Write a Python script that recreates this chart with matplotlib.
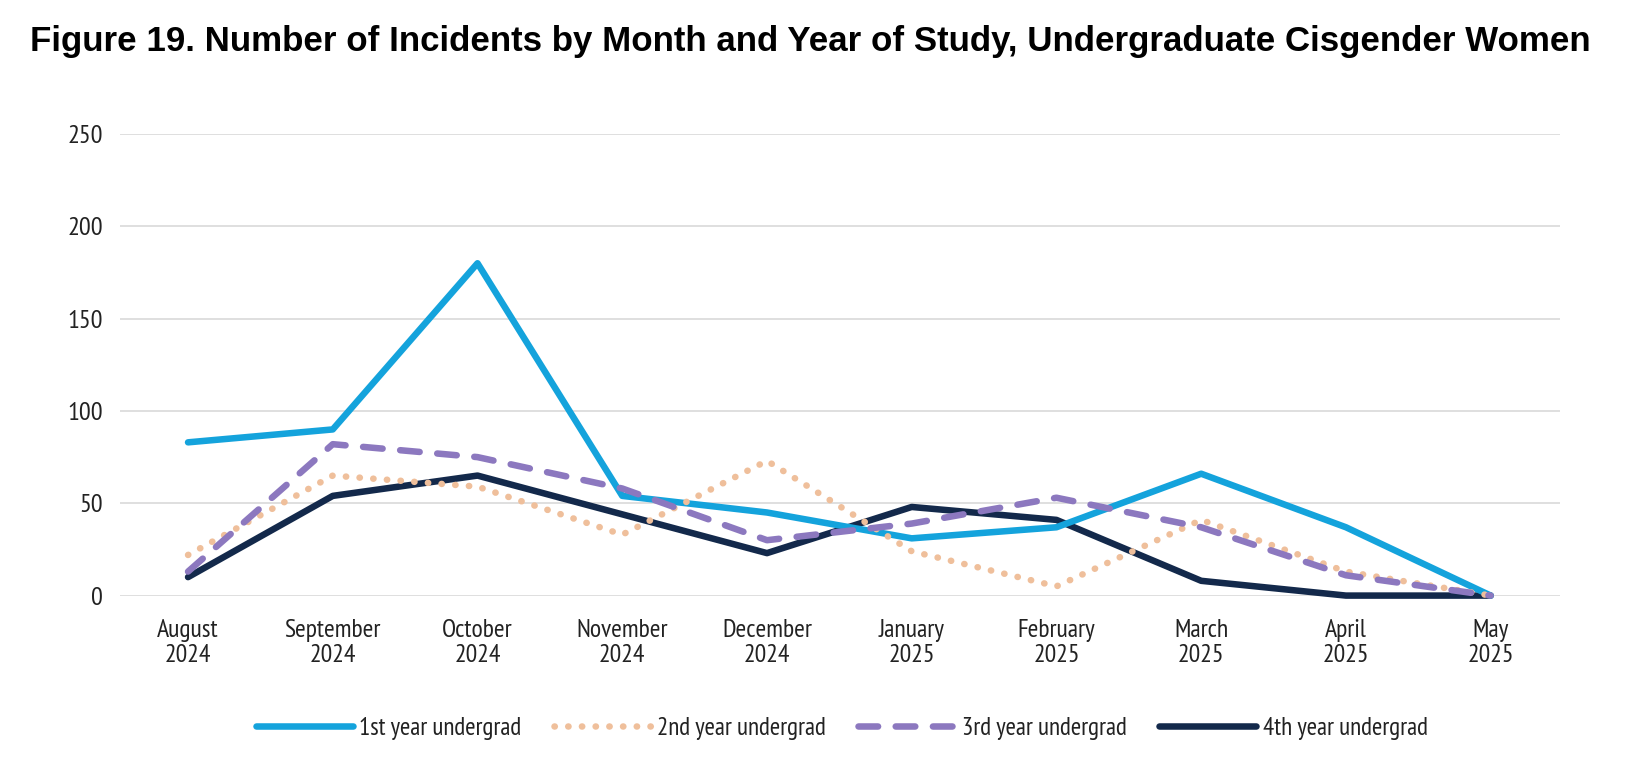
import matplotlib.pyplot as plt

# ---------------------------------------------------------------------------
# Data
# ---------------------------------------------------------------------------
MONTHS = ["August\n2024", "September\n2024", "October\n2024", "November\n2024",
          "December\n2024", "January\n2025", "February\n2025", "March\n2025",
          "April\n2025", "May\n2025"]

FIRST_YEAR = [83, 90, 180, 54, 45, 31, 37, 66, 37, 0]
SECOND_YEAR = [22, 65, 59, 33, 73, 24, 5, 41, 13, 0]
THIRD_YEAR = [13, 82, 75, 58, 30, 39, 53, 37, 11, 0]
FOURTH_YEAR = [10, 54, 65, 44, 23, 48, 41, 8, 0, 0]

SERIES_LABELS = ["1st year undergrad", "2nd year undergrad",
                 "3rd year undergrad", "4th year undergrad"]

Y_TICKS = [0, 50, 100, 150, 200, 250]

NARROW = ["PT Sans Narrow", "DejaVu Sans"]


def main() -> None:
    fig = plt.figure(figsize=(16.44, 7.68), dpi=100)
    ax = fig.add_axes([0.073, 0.2245, 0.876, 0.601])

    x = list(range(len(MONTHS)))
    lw = 4.7

    ax.plot(x, FIRST_YEAR, color="#14a3dc", lw=lw, label=SERIES_LABELS[0],
            solid_capstyle="round", clip_on=False, zorder=3)
    ax.plot(x, SECOND_YEAR, color="#efbf9b", lw=lw, label=SERIES_LABELS[1],
            linestyle=(0, (0.05, 2.05)), dash_capstyle="round",
            clip_on=False, zorder=4)
    ax.plot(x, THIRD_YEAR, color="#8c78bf", lw=lw, label=SERIES_LABELS[2],
            linestyle=(0, (3.0, 2.7)), dash_capstyle="round",
            clip_on=False, zorder=5)
    ax.plot(x, FOURTH_YEAR, color="#13294b", lw=lw, label=SERIES_LABELS[3],
            solid_capstyle="round", clip_on=False, zorder=2)

    ax.set_xlim(-0.47, 9.48)
    ax.set_ylim(0, 250)
    ax.set_yticks(Y_TICKS)
    ax.set_yticklabels([str(v) for v in Y_TICKS], family=NARROW, fontsize=19,
                       color="#222222")
    ax.set_xticks(x)
    ax.set_xticklabels(MONTHS, family=NARROW, fontsize=18.5, color="#222222",
                       linespacing=1.12)
    ax.tick_params(axis="both", length=0)
    ax.tick_params(axis="y", pad=12)
    ax.tick_params(axis="x", pad=17)

    ax.grid(axis="y", color="#d9d9d9", linewidth=1.2)
    ax.set_axisbelow(True)
    for side in ["top", "right", "left", "bottom"]:
        ax.spines[side].set_visible(False)

    fig.text(0.018, 0.946, "Figure 19. Number of Incidents by Month and Year of "
             "Study, Undergraduate Cisgender Women",
             family=["Liberation Sans", "DejaVu Sans"], fontweight="bold",
             fontsize=25.1, ha="left", va="center")

    leg = fig.legend(loc="center", bbox_to_anchor=(0.512, 0.052), ncol=4,
                     frameon=False, handlelength=3.9, handletextpad=0.25,
                     columnspacing=1.28,
                     prop={"family": NARROW, "size": 18})
    for txt in leg.get_texts():
        txt.set_color("#222222")

    plt.savefig("out.png", dpi=100)


if __name__ == "__main__":
    main()
